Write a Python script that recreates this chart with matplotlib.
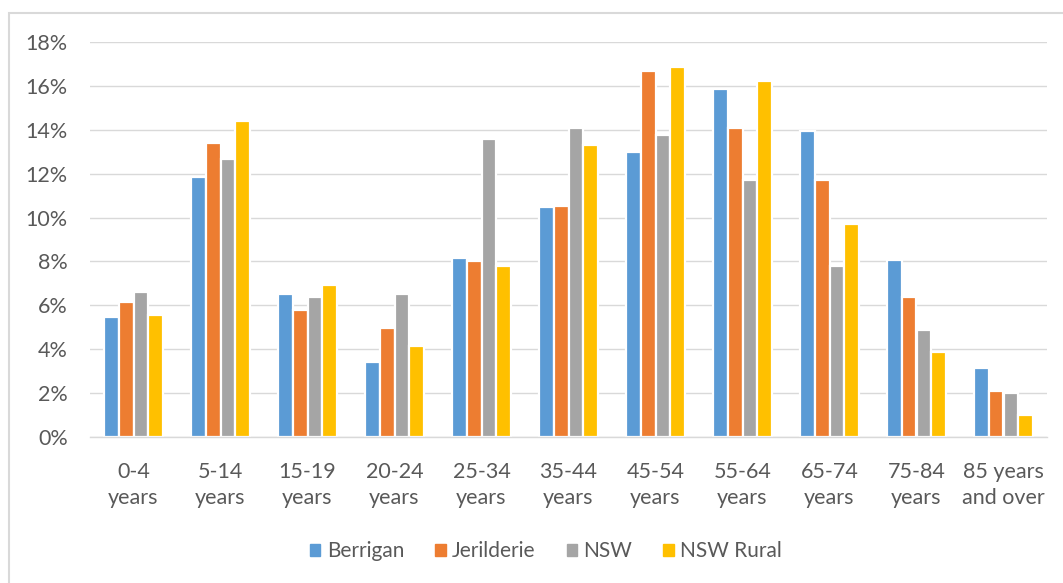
import matplotlib
matplotlib.use("Agg")
import matplotlib.pyplot as plt
import matplotlib.patches as mpatches
from matplotlib.ticker import FuncFormatter
import numpy as np

# Age groups and population share (%) by area
age_groups = ["0-4\nyears", "5-14\nyears", "15-19\nyears", "20-24\nyears",
              "25-34\nyears", "35-44\nyears", "45-54\nyears", "55-64\nyears",
              "65-74\nyears", "75-84\nyears", "85 years\nand over"]
berrigan   = [5.45, 11.83, 6.50, 3.40, 8.14, 10.48, 13.00, 15.87, 13.94, 8.08, 3.16]
jerilderie = [6.15, 13.40, 5.79, 4.97, 8.03, 10.54, 16.69, 14.06, 11.71, 6.39, 2.11]
nsw        = [6.60, 12.65, 6.39, 6.50, 13.59, 14.06, 13.76, 11.71, 7.79, 4.87, 1.99]
nsw_rural  = [5.56, 14.41, 6.91, 4.15, 7.79, 13.30, 16.86, 16.22, 9.72, 3.87, 1.00]
series_names = ["Berrigan", "Jerilderie", "NSW", "NSW Rural"]
y_ticks = [0, 2, 4, 6, 8, 10, 12, 14, 16, 18]

colors = ["#5B9BD5", "#ED7D31", "#A5A5A5", "#FFC000"]
text_color = "#595959"
grid_color = "#D9D9D9"
font = ["Lato", "DejaVu Sans"]

fig = plt.figure(figsize=(10.63, 5.83), dpi=100)
ax = fig.add_axes([90 / 1063, 1 - 437 / 583, (1047 - 90) / 1063, (437 - 42) / 583])

# chart-area border
fig.patches.append(mpatches.Rectangle((9 / 1063, -0.1), 1.2, 1 - 13 / 583 + 0.1,
                                      transform=fig.transFigure, fill=False,
                                      edgecolor="#D9D9D9", linewidth=1.5))

x = np.arange(len(age_groups))
width = 0.17
all_series = [berrigan, jerilderie, nsw, nsw_rural]
for i, (vals, name, c) in enumerate(zip(all_series, series_names, colors)):
    ax.bar(x + (i - 1.5) * width, vals, width, color=c, edgecolor="white",
           linewidth=1.6, label=name, zorder=3)

ax.set_xlim(-0.5, len(age_groups) - 0.5)
ax.set_ylim(0, 18)
ax.set_yticks(y_ticks)
ax.yaxis.set_major_formatter(FuncFormatter(lambda v, p: f"{v:.0f}%"))
ax.set_xticks(x)
ax.set_xticklabels(age_groups, linespacing=1.38)

ax.grid(axis="y", color=grid_color, linewidth=1.0, zorder=0)
ax.set_axisbelow(True)
for s in ["top", "right", "left"]:
    ax.spines[s].set_visible(False)
ax.spines["bottom"].set_color(grid_color)
ax.spines["bottom"].set_linewidth(1.0)
ax.spines["bottom"].set_zorder(4)

ax.tick_params(axis="both", length=0, colors=text_color)
ax.tick_params(axis="y", pad=16)
ax.tick_params(axis="x", pad=18)
for lab in ax.get_xticklabels() + ax.get_yticklabels():
    lab.set_fontfamily(font)
    lab.set_fontsize(15.5)
    lab.set_color(text_color)

leg_handles = [mpatches.Patch(color=c, label=n) for c, n in zip(colors, series_names)]
fig.legend(handles=leg_handles, loc="center", bbox_to_anchor=(546 / 1063, 1 - 551 / 583),
           ncol=4, frameon=False, prop={"family": font, "size": 15},
           handlelength=0.5, handleheight=0.5, handletextpad=0.3,
           columnspacing=1.5, labelcolor=text_color)

fig.savefig("out.png", dpi=100, facecolor="white")
